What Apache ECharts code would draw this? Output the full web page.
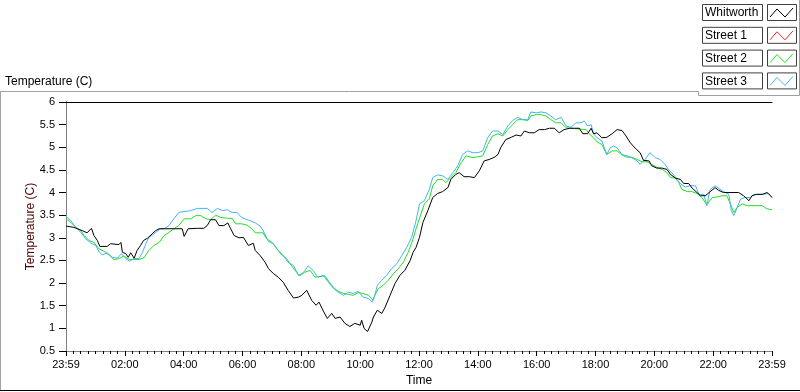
<!DOCTYPE html>
<html>
<head>
<meta charset="utf-8">
<script src="https://cdn.jsdelivr.net/npm/echarts@6/dist/echarts.min.js"></script>
<style>
html,body{margin:0;padding:0;background:#fff;}
#chart{width:800px;height:392px;}
</style>
</head>
<body>
<div id="chart"></div>
<script>
// Minutes after 23:59 (start of record), temperature in °C
const seriesNames = ['Whitworth', 'Street 1', 'Street 2', 'Street 3'];
const seriesColors = ['#000000', '#ff2020', '#22e022', '#45b4f2'];
const xTickLabelsEnds = '23:59';

const whitworth = [[0,3.26],[16,3.23],[33,3.16],[43,3.11],[52,3.21],[57,3.05],[64,2.94],[69,2.81],[84,2.81],[91,2.87],[108,2.85],[112,2.90],[115,2.68],[122,2.65],[127,2.57],[132,2.67],[139,2.55],[145,2.72],[152,2.83],[158,2.94],[166,2.99],[176,3.09],[183,3.16],[190,3.20],[212,3.20],[237,3.20],[241,3.03],[249,3.20],[268,3.21],[281,3.21],[288,3.27],[295,3.40],[305,3.40],[312,3.27],[322,3.27],[330,3.33],[336,3.20],[343,3.05],[353,3.00],[362,3.01],[372,2.83],[382,2.88],[386,2.72],[396,2.61],[406,2.46],[413,2.32],[423,2.21],[433,2.13],[443,2.02],[453,1.84],[464,1.67],[474,1.69],[481,1.73],[491,1.84],[501,1.62],[510,1.51],[516,1.58],[525,1.38],[533,1.22],[542,1.33],[549,1.22],[559,1.25],[569,1.11],[579,1.04],[589,1.11],[600,1.07],[603,1.18],[608,1.00],[615,0.93],[624,1.14],[627,1.25],[635,1.40],[644,1.33],[651,1.47],[661,1.73],[671,1.99],[681,2.17],[691,2.28],[702,2.50],[708,2.68],[714,2.79],[721,3.01],[728,3.34],[738,3.60],[748,3.89],[758,3.98],[768,4.02],[779,4.11],[785,4.29],[795,4.40],[802,4.44],[812,4.35],[823,4.35],[833,4.33],[843,4.48],[853,4.70],[863,4.73],[874,4.78],[881,4.84],[887,5.00],[897,5.17],[908,5.22],[918,5.27],[928,5.25],[935,5.36],[945,5.32],[955,5.32],[965,5.39],[976,5.39],[986,5.42],[996,5.42],[1006,5.32],[1016,5.39],[1027,5.42],[1037,5.42],[1047,5.42],[1054,5.30],[1064,5.30],[1071,5.42],[1076,5.30],[1083,5.32],[1093,5.21],[1103,5.22],[1114,5.30],[1124,5.39],[1134,5.37],[1141,5.27],[1151,5.10],[1161,4.98],[1171,4.88],[1178,4.71],[1189,4.70],[1195,4.59],[1205,4.54],[1216,4.54],[1226,4.51],[1233,4.40],[1243,4.32],[1253,4.29],[1260,4.20],[1270,4.20],[1277,4.10],[1285,4.02],[1294,3.93],[1304,3.93],[1314,4.02],[1324,4.11],[1331,4.05],[1341,4.00],[1372,4.00],[1382,3.93],[1393,3.82],[1399,3.93],[1409,3.96],[1420,3.96],[1430,4.00],[1437,3.93],[1440,3.89]];

const street1 = [];

const street2 = [[0,3.42],[10,3.34],[20,3.23],[30,3.16],[37,3.05],[47,2.94],[57,2.90],[67,2.76],[78,2.70],[88,2.62],[98,2.52],[108,2.54],[118,2.60],[129,2.52],[149,2.52],[159,2.56],[169,2.72],[179,2.83],[190,2.90],[200,3.05],[210,3.12],[220,3.20],[230,3.27],[241,3.42],[254,3.42],[265,3.49],[275,3.49],[285,3.42],[295,3.40],[305,3.50],[316,3.45],[329,3.43],[339,3.43],[346,3.31],[358,3.31],[369,3.28],[379,3.20],[386,3.11],[402,3.11],[409,2.98],[420,2.90],[430,2.76],[440,2.62],[450,2.54],[457,2.43],[467,2.28],[477,2.16],[487,2.24],[498,2.28],[508,2.13],[528,2.16],[537,2.02],[545,1.91],[555,1.82],[566,1.77],[576,1.75],[586,1.73],[596,1.79],[606,1.77],[617,1.73],[626,1.62],[630,1.73],[637,1.88],[647,1.95],[657,2.06],[668,2.21],[678,2.32],[688,2.46],[698,2.68],[708,2.98],[714,3.20],[724,3.53],[731,3.75],[741,3.86],[748,4.15],[758,4.29],[768,4.29],[775,4.22],[785,4.33],[795,4.44],[806,4.66],[816,4.81],[830,4.77],[850,4.81],[860,5.06],[870,5.25],[881,5.30],[891,5.25],[901,5.39],[911,5.50],[921,5.61],[932,5.61],[942,5.59],[948,5.69],[959,5.72],[969,5.72],[979,5.69],[989,5.61],[999,5.54],[1010,5.54],[1020,5.43],[1030,5.42],[1061,5.39],[1067,5.30],[1076,5.21],[1083,5.12],[1093,5.06],[1103,4.84],[1114,4.92],[1124,4.92],[1134,4.83],[1144,4.78],[1154,4.78],[1165,4.73],[1175,4.68],[1185,4.68],[1195,4.62],[1205,4.56],[1216,4.51],[1226,4.44],[1233,4.33],[1243,4.32],[1250,4.22],[1256,4.07],[1267,4.02],[1277,4.02],[1287,3.98],[1297,3.89],[1307,3.73],[1318,3.89],[1328,3.90],[1338,3.93],[1348,3.93],[1355,3.75],[1362,3.56],[1369,3.67],[1379,3.75],[1389,3.71],[1420,3.71],[1430,3.64],[1440,3.62]];

const street3 = [[0,3.47],[10,3.38],[20,3.23],[30,3.12],[40,2.98],[50,2.89],[61,2.83],[67,2.70],[74,2.62],[84,2.67],[94,2.57],[105,2.55],[113,2.65],[122,2.54],[130,2.48],[139,2.55],[149,2.54],[156,2.68],[163,2.87],[169,3.01],[176,3.06],[183,3.12],[193,3.20],[200,3.20],[210,3.27],[220,3.42],[230,3.56],[241,3.58],[254,3.60],[268,3.65],[288,3.65],[298,3.56],[309,3.65],[319,3.60],[329,3.62],[339,3.56],[349,3.56],[358,3.45],[365,3.42],[375,3.38],[386,3.33],[396,3.26],[402,3.16],[413,2.92],[423,2.87],[433,2.72],[443,2.61],[453,2.46],[464,2.39],[474,2.17],[484,2.23],[494,2.38],[504,2.28],[514,2.13],[525,2.17],[535,2.02],[545,1.89],[555,1.80],[566,1.73],[576,1.80],[586,1.77],[596,1.82],[606,1.69],[617,1.66],[624,1.58],[630,1.73],[635,1.95],[644,2.06],[654,2.17],[664,2.32],[675,2.43],[685,2.61],[695,2.79],[705,3.01],[714,3.38],[721,3.75],[731,3.82],[741,4.07],[748,4.33],[758,4.39],[768,4.37],[779,4.29],[789,4.44],[799,4.59],[809,4.84],[819,4.92],[830,4.88],[840,4.88],[850,4.92],[860,5.21],[870,5.36],[881,5.36],[891,5.28],[901,5.47],[911,5.59],[921,5.66],[932,5.61],[942,5.61],[948,5.78],[959,5.76],[969,5.78],[979,5.76],[989,5.69],[999,5.61],[1010,5.66],[1020,5.47],[1030,5.44],[1040,5.54],[1050,5.54],[1057,5.58],[1064,5.47],[1071,5.50],[1076,5.30],[1083,5.21],[1093,5.14],[1103,4.84],[1110,4.99],[1117,5.03],[1124,4.99],[1134,4.84],[1144,4.81],[1154,4.77],[1165,4.70],[1171,4.62],[1181,4.73],[1191,4.88],[1202,4.77],[1212,4.73],[1222,4.62],[1229,4.51],[1239,4.40],[1246,4.29],[1253,4.20],[1263,4.12],[1273,4.15],[1284,4.15],[1291,3.96],[1301,3.96],[1307,3.71],[1314,4.07],[1324,4.15],[1334,4.07],[1345,4.00],[1352,3.96],[1357,3.60],[1362,3.49],[1369,3.67],[1376,3.86],[1385,3.89],[1396,3.89],[1403,3.96],[1423,3.96],[1433,3.98],[1440,3.89]];

const FONT = 'Liberation Sans';
const chart = echarts.init(document.getElementById('chart'), null, {renderer: 'canvas'});

function timeLabel(v) {
  if (v <= 0 || v >= 1440) return xTickLabelsEnds;
  const t = (23 * 60 + 59 + v) % 1440;
  const h = Math.round(t / 60) % 24;
  return (h < 10 ? '0' : '') + h + ':00';
}

// Legend drawn as boxed labels with line swatches (LabVIEW plot legend style)
const legendItems = [];
seriesNames.forEach(function (name, i) {
  const y0 = 4 + i * 22.8;
  legendItems.push({
    type: 'rect', shape: {x: 702.5, y: y0 + 0.5, width: 60, height: 16},
    style: {fill: '#fff', stroke: '#404040', lineWidth: 1}
  });
  legendItems.push({
    type: 'text', x: 705, y: y0 + 9,
    style: {text: name, font: '12px "' + FONT + '"', fill: '#000', verticalAlign: 'middle'}
  });
  legendItems.push({
    type: 'rect', shape: {x: 767.5, y: y0 + 0.5, width: 29, height: 16},
    style: {fill: '#fff', stroke: '#404040', lineWidth: 1}
  });
  legendItems.push({
    type: 'polyline', shape: {points: [[770, y0 + 13], [777, y0 + 5], [785, y0 + 13], [793, y0 + 4]]},
    style: {stroke: seriesColors[i], lineWidth: 1, fill: null}
  });
});

const frame = [
  {type: 'polyline', shape: {points: [[0.5, 391], [0.5, 91.5], [698.5, 91.5], [698.5, 95.5], [799.5, 95.5]]}, style: {stroke: '#a0a0a0', lineWidth: 1, fill: null}},
  {type: 'line', shape: {x1: 799.5, y1: 0, x2: 799.5, y2: 95.5}, style: {stroke: '#a0a0a0', lineWidth: 1}},
  {type: 'line', shape: {x1: 0, y1: 390.5, x2: 800, y2: 390.5}, style: {stroke: '#000', lineWidth: 1}}
];

const seriesData = [whitworth, street1, street2, street3];
const zOrder = [4, 1, 2, 3];

chart.setOption({
  backgroundColor: '#ffffff',
  animation: false,
  title: {
    text: 'Temperature (C)', left: 0, top: 71,
    textStyle: {fontFamily: FONT, fontSize: 12, fontWeight: 'normal', color: '#000'}
  },
  grid: {left: 66, right: 28, top: 102, bottom: 39, containLabel: false},
  xAxis: [{
    type: 'value', min: 0, max: 1440, interval: 120,
    axisLine: {show: true, lineStyle: {color: '#808080', width: 1}},
    axisTick: {show: true, length: 5, lineStyle: {color: '#000'}},
    minorTick: {show: true, splitNumber: 8, length: 3, lineStyle: {color: '#000'}},
    splitLine: {show: false},
    axisLabel: {margin: 8, fontFamily: FONT, fontSize: 11, color: '#000', formatter: timeLabel},
    name: 'Time', nameLocation: 'middle', nameGap: 24, nameMoveOverlap: false,
    nameTextStyle: {fontFamily: FONT, fontSize: 12, color: '#000'}
  }, {
    type: 'value', min: 0, max: 1440, position: 'top',
    axisLine: {show: true, lineStyle: {color: '#000', width: 1}},
    axisTick: {show: false}, axisLabel: {show: false}, splitLine: {show: false}
  }],
  yAxis: [{
    type: 'value', min: 0.5, max: 6, interval: 0.5,
    axisLine: {show: true, lineStyle: {color: '#000', width: 1}},
    axisTick: {show: true, length: 7, lineStyle: {color: '#000'}},
    splitLine: {show: false},
    axisLabel: {margin: 11, fontFamily: FONT, fontSize: 11, color: '#000'},
    name: 'Temperature (C)', nameLocation: 'middle', nameGap: 29, nameMoveOverlap: false,
    nameTextStyle: {fontFamily: FONT, fontSize: 12, color: '#500000'}
  }, {
    type: 'value', min: 0.5, max: 6, position: 'right',
    axisLine: {show: true, lineStyle: {color: '#808080', width: 1}},
    axisTick: {show: false}, axisLabel: {show: false}, splitLine: {show: false}
  }],
  series: seriesNames.map(function (name, i) {
    return {
      name: name, type: 'line', data: seriesData[i], z: zOrder[i],
      xAxisIndex: 0, yAxisIndex: 0,
      showSymbol: false, symbol: 'none',
      lineStyle: {color: seriesColors[i], width: 1},
      itemStyle: {color: seriesColors[i]}
    };
  }),
  graphic: frame.concat(legendItems)
});
</script>
</body>
</html>
